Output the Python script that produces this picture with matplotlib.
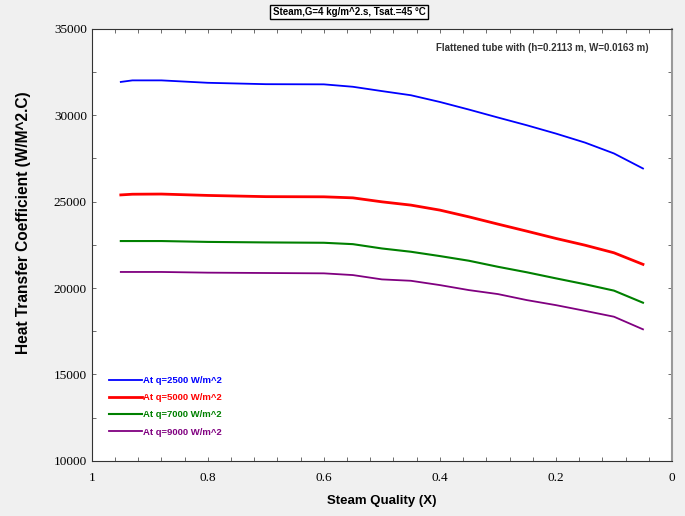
import numpy as np
import matplotlib.pyplot as plt
from matplotlib.ticker import MultipleLocator

x = [0.95, 0.93, 0.88, 0.80, 0.70, 0.60, 0.55, 0.50, 0.45, 0.40, 0.35, 0.30, 0.25, 0.20, 0.15, 0.10, 0.05]
h_2500 = [31930, 32020, 32020, 31880, 31800, 31790, 31650, 31400, 31160, 30770, 30330, 29870, 29420, 28940, 28420, 27790, 26920]
h_5000 = [25390, 25430, 25440, 25360, 25290, 25280, 25220, 24990, 24800, 24510, 24120, 23700, 23290, 22870, 22480, 22040, 21370]
h_7000 = [22720, 22720, 22720, 22670, 22640, 22620, 22540, 22290, 22100, 21850, 21580, 21230, 20910, 20560, 20220, 19850, 19150]
h_9000 = [20930, 20930, 20930, 20890, 20870, 20850, 20750, 20500, 20420, 20170, 19880, 19650, 19300, 19010, 18680, 18340, 17610]
labels = ["At q=2500 W/m^2", "At q=5000 W/m^2", "At q=7000 W/m^2", "At q=9000 W/m^2"]
colors = ["#0000ff", "#ff0000", "#008000", "#800080"]
widths = [1.3, 2.0, 1.5, 1.3]

fig = plt.figure(figsize=(6.85, 5.16), dpi=100, facecolor="#f0f0f0")
ax = fig.add_axes([0.134, 0.107, 0.847, 0.837])

for y, lab, c, w in zip([h_2500, h_5000, h_7000, h_9000], labels, colors, widths):
    ax.plot(x, y, color=c, lw=w, label=lab)

ax.set_xlim(1, 0)
ax.set_ylim(10000, 35000)
ax.xaxis.set_major_locator(MultipleLocator(0.2))
ax.xaxis.set_minor_locator(MultipleLocator(0.04))
ax.yaxis.set_major_locator(MultipleLocator(5000))
ax.yaxis.set_minor_locator(MultipleLocator(2500))
ax.tick_params(which="both", direction="in", top=True, right=True, length=3, width=0.6, color="#555555")
ax.tick_params(axis="x", pad=8)
ax.set_xticks([1, 0.8, 0.6, 0.4, 0.2, 0])
ax.set_xticklabels(["1", "0.8", "0.6", "0.4", "0.2", "0"])
for t in ax.get_xticklabels() + ax.get_yticklabels():
    t.set_fontfamily("Liberation Serif")
    t.set_fontsize(9.5)
for s in ax.spines.values():
    s.set_color("#333333")
    s.set_linewidth(0.8)
ax.spines["right"].set_color("#999999")
ax.spines["right"].set_linewidth(1.5)

ax.set_xlabel("Steam Quality (X)", fontfamily="Liberation Sans", fontweight="bold", fontsize=9.5, labelpad=8)
ax.set_ylabel("Heat Transfer Coefficient (W/M^2.C)", fontfamily="Liberation Sans", fontweight="bold", fontsize=11.2)
ax.yaxis.set_label_coords(-0.104, 0.552)

leg = ax.legend(loc="upper left", bbox_to_anchor=(0.015, 0.215), frameon=False, labelcolor="linecolor",
                handlelength=3.5, handletextpad=0.1, labelspacing=0.85,
                prop={"family": ["Liberation Sans Narrow", "Liberation Sans"], "weight": "bold", "size": 6.8})

ax.text(0.96, 0.955, "Flattened tube with (h=0.2113 m, W=0.0163 m)", transform=ax.transAxes, ha="right", va="center",
        fontsize=7, fontweight="bold", fontfamily=["Liberation Sans Narrow", "Liberation Sans"], color="#333333")

fig.text(349 / 685, 1 - 12 / 516, "Steam,G=4 kg/m^2.s, Tsat.=45 °C", ha="center", va="center",
         fontsize=7, fontweight="bold", fontfamily=["Liberation Sans Narrow", "Liberation Sans"],
         bbox=dict(boxstyle="square,pad=0.25", facecolor="white", edgecolor="black", linewidth=1.0))

fig.savefig("out.png", dpi=100, facecolor=fig.get_facecolor())
